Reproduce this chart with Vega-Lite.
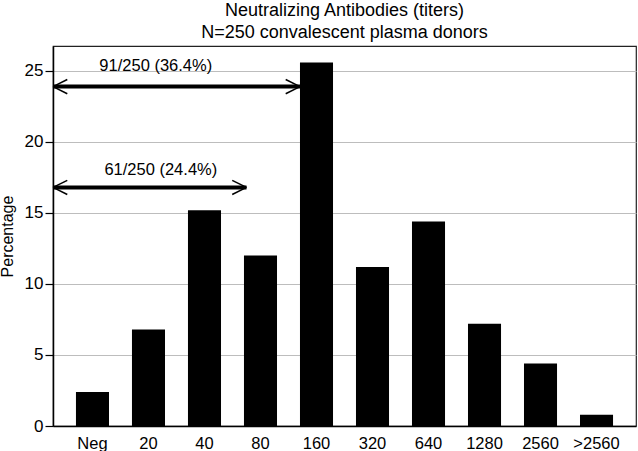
{
  "$schema": "https://vega.github.io/schema/vega-lite/v6.json",
  "width": 583,
  "height": 380,
  "autosize": "none",
  "padding": {"left": 53, "top": 46, "right": 2, "bottom": 25},
  "background": "white",
  "config": {
    "font": "Liberation Sans",
    "view": {"stroke": "#222", "strokeWidth": 1.2}
  },
  "title": {
    "text": ["Neutralizing Antibodies (titers)", "N=250 convalescent plasma donors"],
    "fontSize": 18,
    "fontWeight": "normal",
    "font": "Liberation Sans",
    "color": "black",
    "lineHeight": 22,
    "offset": 4,
    "anchor": "middle",
    "frame": "group"
  },
  "datasets": {
    "bars": [
      {"titer": "Neg", "pct": 2.4},
      {"titer": "20", "pct": 6.8},
      {"titer": "40", "pct": 15.2},
      {"titer": "80", "pct": 12.0},
      {"titer": "160", "pct": 25.6},
      {"titer": "320", "pct": 11.2},
      {"titer": "640", "pct": 14.4},
      {"titer": "1280", "pct": 7.2},
      {"titer": "2560", "pct": 4.4},
      {"titer": ">2560", "pct": 0.8}
    ],
    "arrows": [
      {"a": -0.705, "b": 3.705, "y": 23.9},
      {"a": -0.705, "b": 2.75, "y": 16.8}
    ],
    "heads": [
      {"x1": -0.705, "y1": 23.9, "x2": -0.45, "y2": 24.4},
      {"x1": -0.705, "y1": 23.9, "x2": -0.45, "y2": 23.4},
      {"x1": 3.705, "y1": 23.9, "x2": 3.45, "y2": 24.4},
      {"x1": 3.705, "y1": 23.9, "x2": 3.45, "y2": 23.4},
      {"x1": -0.705, "y1": 16.8, "x2": -0.45, "y2": 17.3},
      {"x1": -0.705, "y1": 16.8, "x2": -0.45, "y2": 16.3},
      {"x1": 2.75, "y1": 16.8, "x2": 2.495, "y2": 17.3},
      {"x1": 2.75, "y1": 16.8, "x2": 2.495, "y2": 16.3}
    ],
    "labels": [
      {"x": 1.13, "y": 25.35, "text": "91/250 (36.4%)"},
      {"x": 1.22, "y": 18.05, "text": "61/250 (24.4%)"}
    ]
  },
  "layer": [
    {
      "data": {"name": "bars"},
      "mark": {"type": "bar", "color": "black"},
      "encoding": {
        "x": {
          "field": "titer",
          "type": "nominal",
          "sort": null,
          "scale": {"paddingInner": 0.41, "paddingOuter": 0.41},
          "axis": {
            "title": null,
            "labelAngle": 0,
            "labelFontSize": 16.5,
            "labelColor": "black",
            "labelPadding": 9,
            "ticks": false,
            "domain": true,
            "domainColor": "black",
            "domainWidth": 1.5
          }
        },
        "y": {
          "field": "pct",
          "type": "quantitative",
          "scale": {"domain": [0, 26.76], "nice": false},
          "axis": {
            "title": "Percentage",
            "titleFontSize": 16,
            "titleFontWeight": "normal",
            "titleColor": "black",
            "titlePadding": 9,
            "values": [0, 5, 10, 15, 20, 25],
            "labelFontSize": 17,
            "labelColor": "black",
            "tickColor": "black",
            "tickSize": 8,
            "tickWidth": 1.2,
            "domainColor": "black",
            "domainWidth": 1.5,
            "grid": true,
            "gridColor": "#bdbdbd",
            "gridWidth": 1.2,
            "labelPadding": 2
          }
        }
      }
    },
    {
      "encoding": {
        "x": {"type": "quantitative", "scale": {"domain": [-0.705, 9.705], "nice": false, "zero": false}, "axis": null}
      },
      "layer": [
        {
          "data": {"name": "arrows"},
          "mark": {"type": "rule", "color": "black", "strokeWidth": 4},
          "encoding": {
            "x": {"field": "a", "type": "quantitative", "scale": {"domain": [-0.705, 9.705], "nice": false, "zero": false}, "axis": null},
            "x2": {"field": "b"},
            "y": {"field": "y", "type": "quantitative"}
          }
        },
        {
          "data": {"name": "heads"},
          "mark": {"type": "rule", "color": "black", "strokeWidth": 1.5},
          "encoding": {
            "x": {"field": "x1", "type": "quantitative", "axis": null},
            "x2": {"field": "x2"},
            "y": {"field": "y1", "type": "quantitative"},
            "y2": {"field": "y2"}
          }
        },
        {
          "data": {"name": "labels"},
          "mark": {"type": "text", "fontSize": 16.5, "color": "black", "font": "Liberation Sans"},
          "encoding": {
            "x": {"field": "x", "type": "quantitative", "axis": null},
            "y": {"field": "y", "type": "quantitative"},
            "text": {"field": "text"}
          }
        }
      ]
    }
  ],
  "resolve": {"scale": {"x": "independent"}, "axis": {"x": "independent"}}
}
